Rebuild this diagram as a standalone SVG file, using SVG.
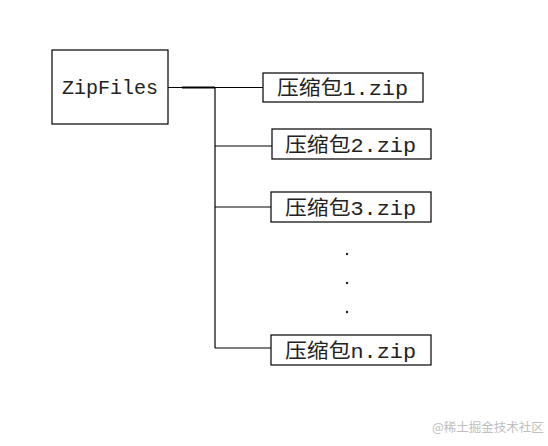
<svg xmlns="http://www.w3.org/2000/svg" width="548" height="446" viewBox="0 0 548 446">
<style>
.box{fill:#fff;stroke:#000;stroke-width:1.2}
.t{font-family:"Liberation Mono","Noto Sans CJK SC",monospace;font-size:20px;fill:#222}
.ln{stroke:#000;stroke-width:1.2;fill:none}
.dot{fill:#222}
.wm{font-family:"Noto Sans CJK SC",sans-serif;font-size:12.5px;fill:#c0c0c0}
</style>
<rect width="548" height="446" fill="#fff"/>
<g id="connectors">
<path class="ln" d="M168 87.5H263"/>
<path d="M182 87.5H215" stroke="#000" stroke-width="2"/>
<path class="ln" d="M215 87.5V348"/>
<path class="ln" d="M215 146H272"/>
<path class="ln" d="M215 207H271"/>
<path class="ln" d="M215 348H271"/>
</g>
<g id="zipfiles">
<rect class="box" x="52" y="50" width="116" height="74"/>
<text class="t" x="110" y="94" text-anchor="middle">ZipFiles</text>
</g>
<g id="zip1">
<rect class="box" x="263" y="73" width="160" height="29"/>
<text class="t" x="277" y="95" textLength="131" lengthAdjust="spacingAndGlyphs">压缩包1.zip</text>
</g>
<g id="zip2">
<rect class="box" x="272" y="129" width="159" height="30"/>
<text class="t" x="285" y="152" textLength="131" lengthAdjust="spacingAndGlyphs">压缩包2.zip</text>
</g>
<g id="zip3">
<rect class="box" x="271" y="192" width="160" height="30"/>
<text class="t" x="285" y="215" textLength="131" lengthAdjust="spacingAndGlyphs">压缩包3.zip</text>
</g>
<g id="dots">
<circle class="dot" cx="347" cy="254" r="1.2"/>
<circle class="dot" cx="347" cy="283" r="1.2"/>
<circle class="dot" cx="347" cy="312" r="1.2"/>
</g>
<g id="zipn">
<rect class="box" x="271" y="335" width="160" height="30"/>
<text class="t" x="285" y="358" textLength="131" lengthAdjust="spacingAndGlyphs">压缩包n.zip</text>
</g>
<text class="wm" x="432" y="432">@稀土掘金技术社区</text>
</svg>
